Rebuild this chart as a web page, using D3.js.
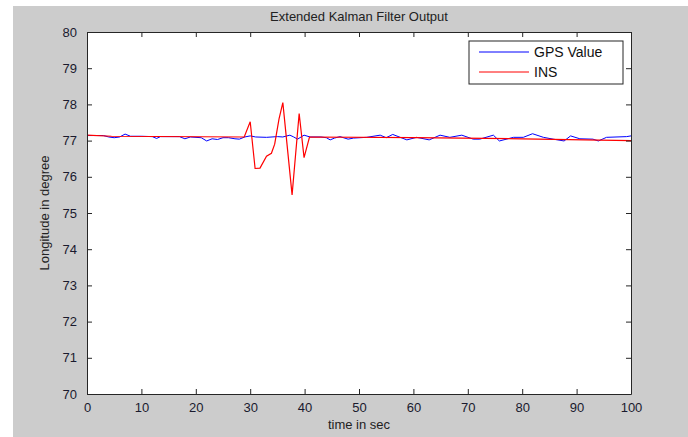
<!DOCTYPE html>
<html>
<head>
<meta charset="utf-8">
<script src="https://cdn.jsdelivr.net/npm/d3@7"></script>
<style>
  html, body { margin: 0; padding: 0; background: #fff; }
  svg { display: block; font-family: "Liberation Sans", Arial, sans-serif; }
</style>
</head>
<body>
<svg id="chart" width="688" height="437"></svg>
<script>
// values
const xTicks = [0, 10, 20, 30, 40, 50, 60, 70, 80, 90, 100];
const yTicks = [70, 71, 72, 73, 74, 75, 76, 77, 78, 79, 80];

const gpsTime = [0, 3, 4, 5, 6, 7, 8, 10, 12, 12.8, 13.5, 17, 18, 19, 21, 22, 23, 24, 25, 26, 27.2, 28,
  29, 30, 31, 33, 35, 36, 37.3, 38, 38.7, 39.9, 41, 43, 44, 44.7, 45.5, 46.5, 48, 49, 51.4, 53.9, 55,
  56.2, 58.8, 60.6, 62.9, 64.9, 66.7, 68.9, 71, 72.2, 74.7, 75.8, 78.4, 80.2, 81.9, 83.9, 85.7, 87.7,
  88.9, 90.6, 93, 94, 95.5, 99.2, 100];
const gpsValue = [77.14, 77.14, 77.1, 77.08, 77.1, 77.18, 77.12, 77.12, 77.11, 77.06, 77.11, 77.11, 77.05, 77.1,
  77.08, 76.99, 77.05, 77.03, 77.08, 77.08, 77.05, 77.04, 77.1, 77.13, 77.1, 77.09, 77.11, 77.1, 77.15, 77.1,
  77.04, 77.15, 77.1, 77.1, 77.08, 77.02, 77.07, 77.11, 77.04, 77.07, 77.09, 77.15, 77.08, 77.17, 77.02,
  77.09, 77.02, 77.15, 77.09, 77.15, 77.04, 77.04, 77.15, 76.99, 77.09, 77.09, 77.19, 77.09, 77.04, 76.99,
  77.13, 77.05, 77.04, 76.99, 77.09, 77.11, 77.13];

const insTime = [0, 4.5, 28.9, 30, 30.9, 31.8, 33, 33.9, 34.5, 35.3, 36, 37.7, 39, 39.9, 40.9, 60, 80, 100];
const insValue = [77.15, 77.12, 77.1, 77.52, 76.23, 76.24, 76.57, 76.65, 76.9, 77.6, 78.05, 75.5, 77.75, 76.53,
  77.1, 77.08, 77.05, 77.0];

const legendNames = ["GPS Value", "INS"];
const colors = ["#0000ff", "#ff0000"];

const svg = d3.select("#chart");
const W = 688, H = 437;
const m = { left: 87, right: 631, top: 32, bottom: 394 };

// grey figure background
svg.append("rect").attr("x", 13).attr("y", 6).attr("width", W - 13).attr("height", H - 6).attr("fill", "#cccccc");

const x = d3.scaleLinear().domain([0, 100]).range([m.left, m.right]);
const y = d3.scaleLinear().domain([70, 80]).range([m.bottom, m.top]);

svg.append("rect").attr("x", m.left).attr("y", m.top)
  .attr("width", m.right - m.left).attr("height", m.bottom - m.top).attr("fill", "#fff");

const line = d3.line().x(d => x(d[0])).y(d => y(d[1]));

const gps = gpsTime.map((t, i) => [t, gpsValue[i]]);
const ins = insTime.map((t, i) => [t, insValue[i]]);

svg.append("path").datum(gps).attr("d", line).attr("fill", "none").attr("stroke", colors[0]).attr("stroke-width", 1);
svg.append("path").datum(ins).attr("d", line).attr("fill", "none").attr("stroke", colors[1]).attr("stroke-width", 1.2);

// axes with inward ticks on all four sides
const tickLen = 5;
const bottomAxis = svg.append("g").attr("transform", `translate(0,${m.bottom})`)
  .call(d3.axisBottom(x).tickValues(xTicks).tickSizeInner(-tickLen).tickSizeOuter(0).tickPadding(9));
const topAxis = svg.append("g").attr("transform", `translate(0,${m.top})`)
  .call(d3.axisTop(x).tickValues(xTicks).tickSizeInner(-tickLen).tickSizeOuter(0).tickFormat(""));
const leftAxis = svg.append("g").attr("transform", `translate(${m.left},0)`)
  .call(d3.axisLeft(y).tickValues(yTicks).tickSizeInner(-tickLen).tickSizeOuter(0).tickPadding(10));
const rightAxis = svg.append("g").attr("transform", `translate(${m.right},0)`)
  .call(d3.axisRight(y).tickValues(yTicks).tickSizeInner(-tickLen).tickSizeOuter(0).tickFormat(""));

[bottomAxis, topAxis, leftAxis, rightAxis].forEach(g => {
  g.select(".domain").attr("stroke", "#262626");
  g.selectAll(".tick line").attr("stroke", "#262626");
  g.selectAll("text").attr("font-size", 13).attr("fill", "#1a1a2e")
    .attr("font-family", "Liberation Sans, Arial, sans-serif");
});

svg.append("text").attr("x", (m.left + m.right) / 2).attr("y", 21)
  .attr("text-anchor", "middle").attr("font-size", 13).attr("fill", "#222").text("Extended Kalman Filter Output");
svg.append("text").attr("x", (m.left + m.right) / 2).attr("y", 429)
  .attr("text-anchor", "middle").attr("font-size", 13).attr("fill", "#222").text("time in sec");
svg.append("text").attr("transform", `translate(49,${(m.top + m.bottom) / 2}) rotate(-90)`)
  .attr("text-anchor", "middle").attr("font-size", 13).attr("fill", "#222").text("Longitude in degree");

// legend
const lg = svg.append("g");
lg.append("rect").attr("x", 469).attr("y", 41).attr("width", 154).attr("height", 43)
  .attr("fill", "#fff").attr("stroke", "#262626").attr("stroke-width", 1);
legendNames.forEach((name, i) => {
  const ly = 52 + i * 20;
  lg.append("line").attr("x1", 479).attr("x2", 529).attr("y1", ly).attr("y2", ly)
    .attr("stroke", colors[i]).attr("stroke-width", 1);
  lg.append("text").attr("x", 534).attr("y", ly + 5).attr("font-size", 14).attr("fill", "#111").text(name);
});
</script>
</body>
</html>
